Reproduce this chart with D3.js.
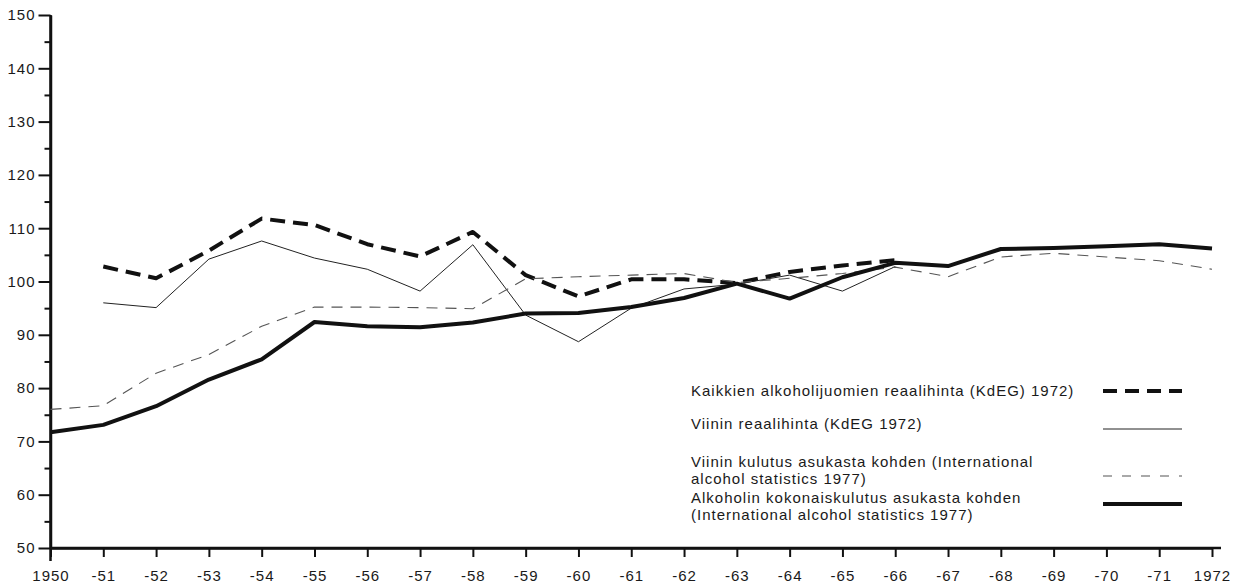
<!DOCTYPE html>
<html>
<head>
<meta charset="utf-8">
<script src="https://cdn.jsdelivr.net/npm/d3@7"></script>
<style>
  html, body { margin: 0; padding: 0; background: #fff; }
  svg { display: block; }
  text { font-family: "Liberation Sans", Arial, Helvetica, sans-serif; fill: #1a1a1a; }
</style>
</head>
<body>
<svg id="chart" width="1247" height="587"></svg>
<script>
// ---- data ----
const years = d3.range(1950, 1973);
const xTickLabels = ["1950","-51","-52","-53","-54","-55","-56","-57","-58","-59","-60","-61","-62","-63","-64","-65","-66","-67","-68","-69","-70","-71","1972"];
const yTickValues = [50, 60, 70, 80, 90, 100, 110, 120, 130, 140, 150];
const yMinorValues = [55, 65, 75, 85, 95, 105, 115, 125, 135, 145];

// Kaikkien alkoholijuomien reaalihinta (1951-1966)
const priceAllYears = d3.range(1951, 1967);
const priceAll = [102.8, 100.6, 105.8, 111.8, 110.6, 107.0, 104.7, 109.3, 101.2, 97.2, 100.4, 100.4, 99.7, 101.8, 103.0, 104.0];
// Viinin reaalihinta (1951-1966)
const priceWineYears = d3.range(1951, 1967);
const priceWine = [96.0, 95.1, 104.2, 107.6, 104.4, 102.3, 98.2, 106.9, 93.7, 88.7, 95.0, 98.6, 99.5, 101.2, 98.2, 102.8];
// Viinin kulutus asukasta kohden (1950-1972)
const wineCons = [76.0, 76.7, 82.8, 86.3, 91.6, 95.2, 95.2, 95.1, 94.9, 100.5, 100.9, 101.2, 101.5, 99.8, 100.6, 101.5, 102.7, 100.9, 104.6, 105.3, 104.6, 103.9, 102.3];
// Alkoholin kokonaiskulutus asukasta kohden (1950-1972)
const totalCons = [71.7, 73.1, 76.6, 81.6, 85.4, 92.4, 91.6, 91.4, 92.3, 94.0, 94.1, 95.2, 96.9, 99.6, 96.8, 100.8, 103.5, 102.9, 106.1, 106.3, 106.6, 107.0, 106.2];

const legendLabels = [
  ["Kaikkien alkoholijuomien reaalihinta (KdEG) 1972)"],
  ["Viinin reaalihinta (KdEG 1972)"],
  ["Viinin kulutus asukasta kohden (International", "alcohol statistics 1977)"],
  ["Alkoholin kokonaiskulutus asukasta kohden", "(International alcohol statistics 1977)"]
];

// ---- drawing ----
const svg = d3.select("#chart");
const x = d3.scaleLinear().domain([1950, 1972]).range([50.5, 1212]);
const y = d3.scaleLinear().domain([50, 150]).range([548, 15]);

const styles = [
  { width: 4, dash: "15,8", color: "#111" },
  { width: 1, dash: null, color: "#222" },
  { width: 1.1, dash: "11,8", color: "#555" },
  { width: 4, dash: null, color: "#111" }
];

const seriesList = [
  { xs: priceAllYears, ys: priceAll },
  { xs: priceWineYears, ys: priceWine },
  { xs: years, ys: wineCons },
  { xs: years, ys: totalCons }
];

// axes
const gy = svg.append("g").attr("transform", "translate(50.5,0)");
gy.call(d3.axisLeft(y).tickValues(yTickValues).tickSize(12).tickSizeOuter(0).tickPadding(3));
const gyMinor = svg.append("g").attr("transform", "translate(50.5,0)");
gyMinor.call(d3.axisLeft(y).tickValues(yMinorValues).tickSize(6).tickFormat(""));
gyMinor.select(".domain").remove();

const gx = svg.append("g").attr("transform", "translate(0,548)");
gx.call(d3.axisBottom(x).tickValues(years).tickSize(9).tickSizeOuter(0)
  .tickFormat((d, i) => xTickLabels[i]).tickPadding(13));

[gy, gyMinor, gx].forEach(g => {
  g.selectAll(".tick line").attr("stroke", "#111").attr("stroke-width", 2);
  g.selectAll(".domain").attr("stroke", "#111").attr("stroke-width", 2.5);
  g.selectAll("text").attr("font-size", 15).style("letter-spacing", "1px")
    .attr("fill", "#1a1a1a").attr("font-family", "Liberation Sans, Arial, sans-serif");
});
gx.selectAll("text").attr("dy", "0.71em");

// extend axis lines like the original
svg.append("line").attr("x1", 50.5).attr("x2", 50.5).attr("y1", y(150)).attr("y2", 561)
  .attr("stroke", "#111").attr("stroke-width", 2.5);
svg.append("line").attr("x1", 50.5).attr("x2", 1221).attr("y1", 548).attr("y2", 548)
  .attr("stroke", "#111").attr("stroke-width", 2.5);

// series lines
const line = d3.line().x(d => x(d[0])).y(d => y(d[1]));
seriesList.forEach((s, i) => {
  const pts = s.xs.map((yr, j) => [yr, s.ys[j]]);
  svg.append("path").datum(pts)
    .attr("d", line)
    .attr("fill", "none")
    .attr("stroke", styles[i].color)
    .attr("stroke-width", styles[i].width)
    .attr("stroke-linejoin", "round")
    .attr("stroke-dasharray", styles[i].dash);
});

// legend
const legendTextX = 691;
const legendBaselines = [396, 429, 467, 503];
const legendLineY = [391, 429, 476, 504];
const lineH = 16.5;
legendLabels.forEach((lines, i) => {
  const t = svg.append("text").attr("x", legendTextX).attr("y", legendBaselines[i])
    .attr("font-size", 15).style("letter-spacing", "1px");
  lines.forEach((ln, k) => {
    t.append("tspan").attr("x", legendTextX).attr("dy", k === 0 ? 0 : lineH).text(ln);
  });
  svg.append("line").attr("x1", 1103).attr("x2", 1182)
    .attr("y1", legendLineY[i]).attr("y2", legendLineY[i])
    .attr("stroke", styles[i].color)
    .attr("stroke-width", styles[i].width)
    .attr("stroke-dasharray", i === 0 ? "14,8" : (i === 2 ? "9,10" : null));
});
</script>
</body>
</html>
